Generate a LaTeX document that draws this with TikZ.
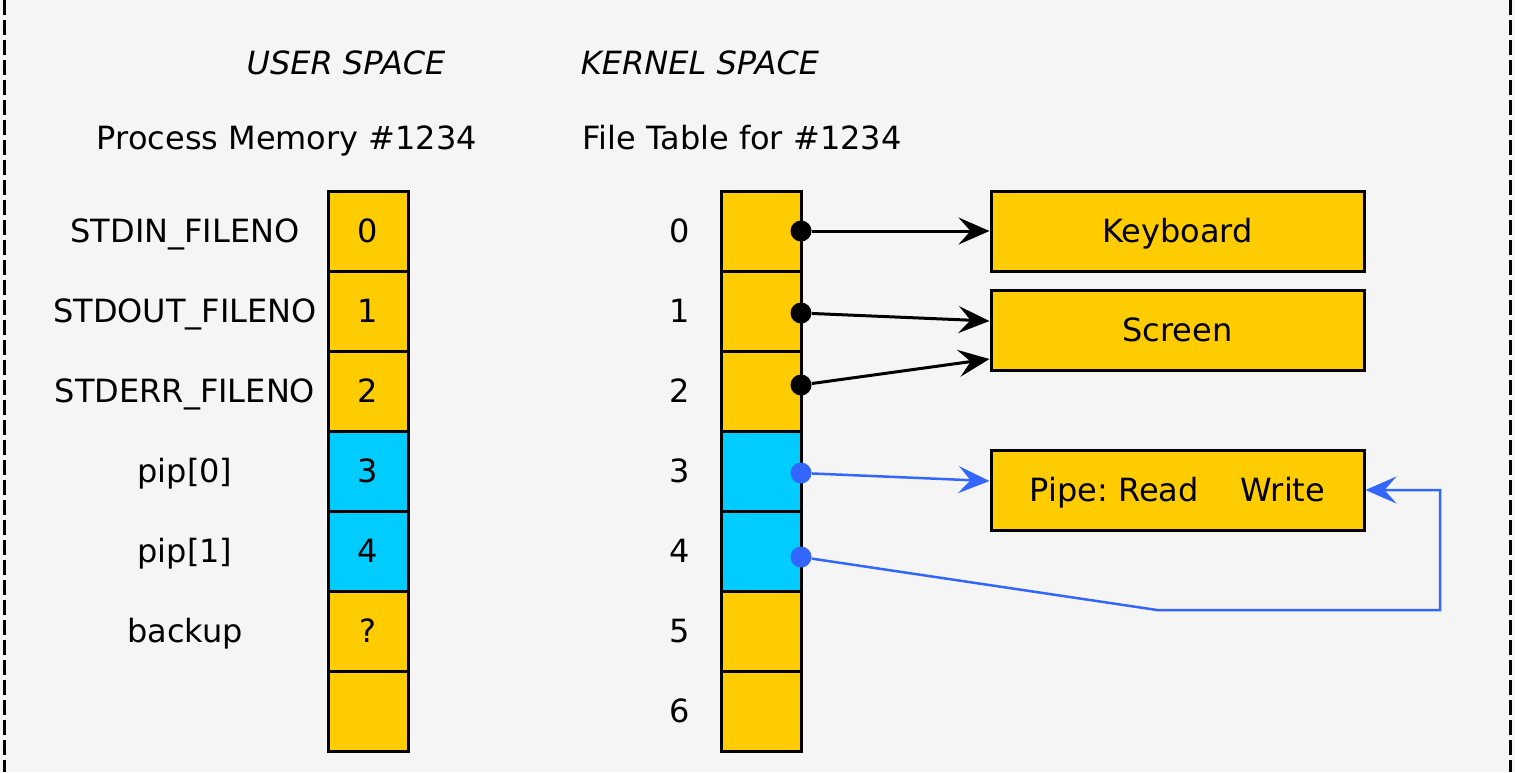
\documentclass[tikz,border=0pt]{standalone}
\usepackage{fontspec}
\setmainfont{DejaVu Sans}
\usepackage{tikz}
\usetikzlibrary{arrows.meta,calc}
\definecolor{cellyellow}{HTML}{FFCC00}
\definecolor{cellcyan}{HTML}{00CCFF}
\definecolor{pipeblue}{HTML}{3366FF}
\definecolor{bggray}{HTML}{F5F5F5}
\frenchspacing

\begin{document}
\begin{tikzpicture}[x=0.5pt, y=-0.5pt,
  every node/.style={font=\fontsize{16}{19}\selectfont, text height=11.7pt, text depth=0pt},
  cell/.style={draw, line width=1.5pt, fill=cellyellow, minimum width=40pt, minimum height=40pt, inner sep=0pt},
  fdcell/.style={cell, fill=cellcyan},
  dev/.style={draw, line width=1.5pt, fill=cellyellow, minimum width=186.5pt, minimum height=40pt, inner sep=0pt},
  fdot/.style={circle, fill, inner sep=0pt, text height=0pt, minimum size=10.5pt},
  ptr/.style={-{Stealth[length=15.5pt, width=13.5pt, inset=6pt]}, line width=1.5pt},
  frame/.style={line width=1.5pt, dash pattern=on 7.5pt off 2.5pt}]
  \useasboundingbox (0,0) rectangle (1515,772);
  \fill[bggray] (0,0) rectangle (1515,772);
  \draw[frame] (4,0) -- (4,772);
  \draw[frame] (1510,0) -- (1510,772);

  \node (us) at (346, 63) {\itshape USER SPACE};
  \node (ks) at (700, 63) {\itshape KERNEL SPACE};
  \node (pm) at (287, 138) {Process Memory \#1234};
  \node (ft) at (742, 138) {File Table for \#1234};

  \node [cell] (u0) at (368, 231) {0};
  \node [cell] (u1) at (368, 311) {1};
  \node [cell] (u2) at (368, 391) {2};
  \node [fdcell] (u3) at (368, 471) {3};
  \node [fdcell] (u4) at (368, 551) {4};
  \node [cell] (u5) at (368, 631) {?};
  \node [cell] (u6) at (368, 711) {};

  \node (l0) at (185, 231) {STDIN\_FILENO};
  \node (l1) at (185, 311) {STDOUT\_FILENO};
  \node (l2) at (185, 391) {STDERR\_FILENO};
  \node (l3) at (185, 471) {pip[0]};
  \node (l4) at (185, 551) {pip[1]};
  \node (l5) at (185, 631) {backup};

  \node [cell] (k0) at (761, 231) {};
  \node [cell] (k1) at (761, 311) {};
  \node [cell] (k2) at (761, 391) {};
  \node [fdcell] (k3) at (761, 471) {};
  \node [fdcell] (k4) at (761, 551) {};
  \node [cell] (k5) at (761, 631) {};
  \node [cell] (k6) at (761, 711) {};

  \node (n0) at (680, 231) {0};
  \node (n1) at (680, 311) {1};
  \node (n2) at (680, 391) {2};
  \node (n3) at (680, 471) {3};
  \node (n4) at (680, 551) {4};
  \node (n5) at (680, 631) {5};
  \node (n6) at (680, 711) {6};

  \node [dev] (kbd) at (1177.5, 231) {Keyboard};
  \node [dev] (scr) at (1177.5, 330) {Screen};
  \node [dev] (pipe) at (1177.5, 490) {Pipe: Read\hspace{21pt}Write};

  \node [fdot] (d0) at (801, 231) {};
  \node [fdot] (d1) at (801, 313) {};
  \node [fdot] (d2) at (801, 385) {};
  \node [fdot, pipeblue] (d3) at (801, 473) {};
  \node [fdot, pipeblue] (d4) at (801, 557) {};
  \coordinate (bend) at (1157, 610);
  \coordinate (turn) at (1440, 610);

  \draw [ptr] (d0) -- (kbd.west);
  \draw [ptr] (d1) -- ($(scr.west)+(0,-9)$);
  \draw [ptr] (d2) -- ($(scr.west)+(0,29)$);
  \draw [ptr, pipeblue, line width=1.25pt] (d3) -- ($(pipe.west)+(0,-9)$);
  \draw [ptr, pipeblue, line width=1.25pt] (d4) -- (bend) -- (turn) |- (pipe.east);
\end{tikzpicture}
\end{document}
